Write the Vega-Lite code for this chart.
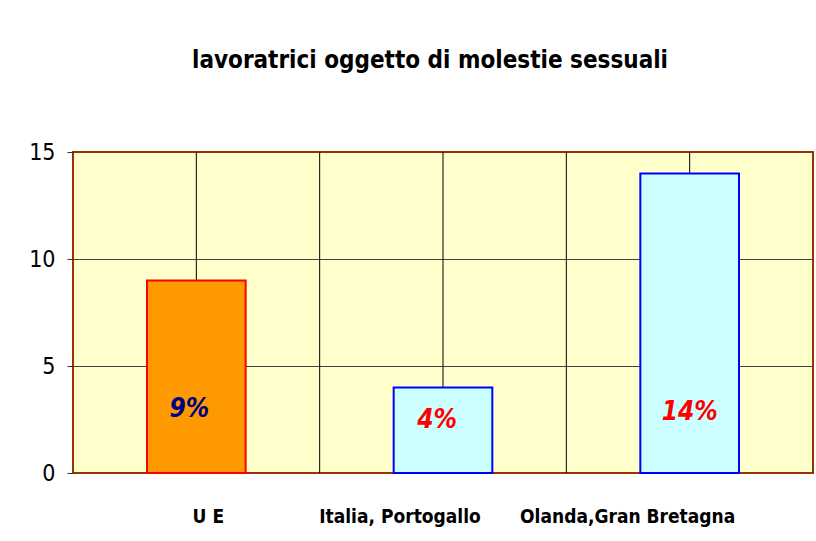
{
  "$schema": "https://vega.github.io/schema/vega-lite/v6.json",
  "width": 740,
  "height": 321,
  "autosize": {"type": "none"},
  "padding": {"left": 73, "top": 152, "right": 3, "bottom": 68},
  "background": "white",
  "title": {
    "text": "lavoratrici oggetto di molestie sessuali",
    "font": "DejaVu Sans Condensed, sans-serif",
    "fontSize": 24,
    "fontWeight": "bold",
    "color": "black",
    "anchor": "middle",
    "frame": "group",
    "baseline": "alphabetic",
    "offset": 49,
    "dx": -13
  },
  "data": {
    "values": [
      {"area": "U E", "valore": 9, "etichetta": "9%"},
      {"area": "Italia, Portogallo", "valore": 4, "etichetta": "4%"},
      {"area": "Olanda,Gran Bretagna", "valore": 14, "etichetta": "14%"}
    ]
  },
  "config": {
    "view": {"fill": "#FFFFCC", "stroke": "#993300", "strokeWidth": 2},
    "font": "DejaVu Sans Condensed, sans-serif"
  },
  "encoding": {
    "x": {
      "field": "area",
      "type": "nominal",
      "sort": null,
      "scale": {"domain": ["U E", "Italia, Portogallo", "Olanda,Gran Bretagna"], "paddingInner": 0, "paddingOuter": 0},
      "axis": {
        "title": null,
        "labelAngle": 0,
        "ticks": false,
        "domain": false,
        "grid": false,
        "labelFontSize": 19,
        "labelFontWeight": "bold",
        "labelColor": "black",
        "labelBaseline": "top",
        "labelPadding": 34,
        "labelLimit": 0,
        "labelOffset": {
          "condition": [
            {"test": "datum.value === 'U E'", "value": 12},
            {"test": "datum.value === 'Italia, Portogallo'", "value": -43}
          ],
          "value": -62
        }
      }
    }
  },
  "layer": [
    {
      "transform": [{"filter": "datum.area !== 'U E'"}],
      "mark": {"type": "rule", "color": "black", "strokeWidth": 1},
      "encoding": {
        "x": {"field": "area", "type": "nominal", "sort": null, "bandPosition": 0}
      }
    },
    {
      "mark": {"type": "rule", "color": "black", "strokeWidth": 1},
      "encoding": {
        "x": {"field": "area", "type": "nominal", "sort": null, "bandPosition": 0.5}
      }
    },
    {
      "mark": {"type": "bar", "width": {"band": 0.4}, "strokeWidth": 2},
      "encoding": {
        "y": {
          "field": "valore",
          "type": "quantitative",
          "scale": {"domain": [0, 15], "nice": false},
          "axis": {
            "title": null,
            "values": [0, 5, 10, 15],
            "domain": false,
            "tickSize": 6,
            "tickColor": "#333333",
            "labelFontSize": 23,
            "labelColor": "black",
            "labelPadding": 12,
            "grid": true,
            "gridColor": {
              "condition": {"test": "datum.value === 0 || datum.value === 15", "value": "transparent"},
              "value": "#404040"
            }
          }
        },
        "fill": {
          "field": "area",
          "type": "nominal",
          "scale": {"domain": ["U E", "Italia, Portogallo", "Olanda,Gran Bretagna"], "range": ["#FF9900", "#CCFFFF", "#CCFFFF"]},
          "legend": null
        },
        "stroke": {
          "field": "area",
          "type": "nominal",
          "scale": {"domain": ["U E", "Italia, Portogallo", "Olanda,Gran Bretagna"], "range": ["#FF0000", "#0000FF", "#0000FF"]},
          "legend": null
        }
      }
    },
    {
      "transform": [{"filter": "datum.area === 'U E'"}],
      "mark": {"type": "text", "fontSize": 26, "fontWeight": "bold", "fontStyle": "italic", "baseline": "middle", "align": "center", "dx": -7, "color": "#000080"},
      "encoding": {"y": {"datum": 2.99, "type": "quantitative"}, "text": {"field": "etichetta"}}
    },
    {
      "transform": [{"filter": "datum.area === 'Italia, Portogallo'"}],
      "mark": {"type": "text", "fontSize": 26, "fontWeight": "bold", "fontStyle": "italic", "baseline": "middle", "align": "center", "dx": -6, "color": "#FF0000"},
      "encoding": {"y": {"datum": 2.48, "type": "quantitative"}, "text": {"field": "etichetta"}}
    },
    {
      "transform": [{"filter": "datum.area === 'Olanda,Gran Bretagna'"}],
      "mark": {"type": "text", "fontSize": 26, "fontWeight": "bold", "fontStyle": "italic", "baseline": "middle", "align": "center", "color": "#FF0000"},
      "encoding": {"y": {"datum": 2.85, "type": "quantitative"}, "text": {"field": "etichetta"}}
    }
  ]
}
